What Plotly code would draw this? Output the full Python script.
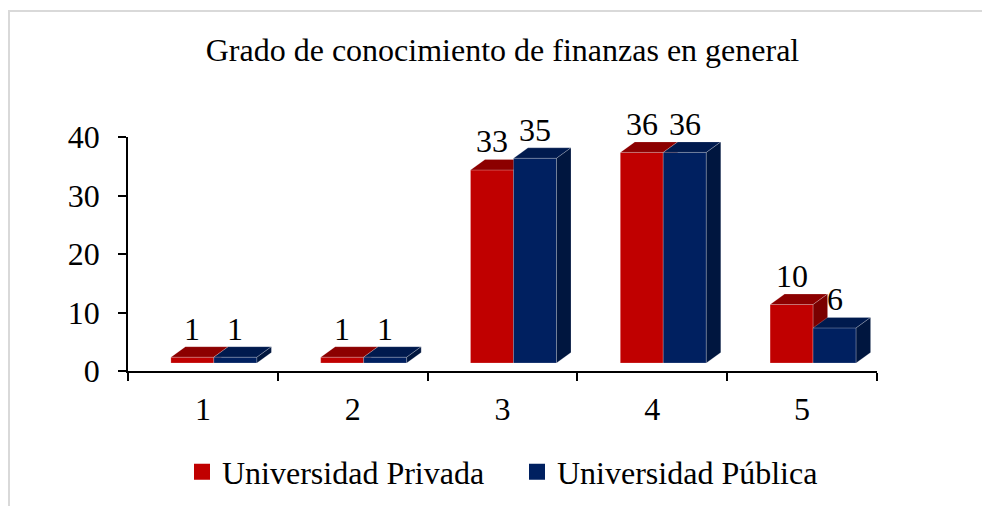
import plotly.graph_objects as go

# ---------------- data ----------------
categories = [1, 2, 3, 4, 5]
cat_labels = ["1", "2", "3", "4", "5"]
privada = [1, 1, 33, 36, 10]
publica = [1, 1, 35, 36, 6]
y_ticks = [0, 10, 20, 30, 40]
series_names = ["Universidad Privada", "Universidad Pública"]
title_text = "Grado de conocimiento de finanzas en general"

# ---------------- style ----------------
FONT = "Liberation Serif, Times New Roman, serif"
FS = 32
W, H = 982, 506
L, R, T, B = 128, 105, 137, 135
PLOT_W = W - L - R
PLOT_H = H - T - B
X_RANGE = [0.5, 5.5]
Y_RANGE = [0, 40]
PX_X = PLOT_W / (X_RANGE[1] - X_RANGE[0])
PX_Y = PLOT_H / (Y_RANGE[1] - Y_RANGE[0])

# pseudo-3D projection (pixel offsets converted to axis units)
FDX, FDY = 11 / PX_X, 8 / PX_Y          # axis plane -> bar front plane
DDX, DDY = 14.5 / PX_X, 10.5 / PX_Y     # bar depth
BW = 43 / PX_X                          # bar width
LABEL_UP = 28.5                         # px above front top edge

colors = {
    "Universidad Privada": dict(front="#C00000", top="#8C0000", side="#7A0000"),
    "Universidad Pública": dict(front="#002060", top="#001A4E", side="#00163F"),
}


def faces(x0, x1, v):
    base = FDY
    top = v + FDY
    front = ([x0, x1, x1, x0, x0], [base, base, top, top, base])
    topf = ([x0, x1, x1 + DDX, x0 + DDX, x0], [top, top, top + DDY, top + DDY, top])
    side = ([x1, x1 + DDX, x1 + DDX, x1, x1], [base, base + DDY, top + DDY, top, base])
    return front, topf, side


fig = go.Figure()
annotations = []

for s_idx, (name, vals) in enumerate(zip(series_names, [privada, publica])):
    col = colors[name]
    fx, fy, tx, ty, sx, sy = [], [], [], [], [], []
    for c, v in zip(categories, vals):
        x0 = c + FDX - BW + s_idx * BW
        x1 = x0 + BW
        (a, b), (cc, d), (e, f) = faces(x0, x1, v)
        fx += a + [None]; fy += b + [None]
        tx += cc + [None]; ty += d + [None]
        sx += e + [None]; sy += f + [None]
        annotations.append(dict(
            x=(x0 + x1) / 2, y=v + FDY, xref="x", yref="y",
            text=str(v), showarrow=False, xanchor="center", yanchor="middle",
            yshift=LABEL_UP, font=dict(family=FONT, size=FS, color="#000000")))
    for xs, ys, clr in [(fx, fy, col["front"]), (tx, ty, col["top"]), (sx, sy, col["side"])]:
        fig.add_trace(go.Scatter(
            x=xs, y=ys, mode="lines", fill="toself", fillcolor=clr,
            line=dict(width=0.6, color="rgba(255,255,255,0.35)"),
            showlegend=False, hoverinfo="skip"))

# legend entries
for name in series_names:
    fig.add_trace(go.Scatter(
        x=[None], y=[None], mode="markers", name=name,
        marker=dict(symbol="square", size=16, color=colors[name]["front"], line=dict(width=0))))

fig.update_layout(
    width=W, height=H,
    margin=dict(l=L, r=R, t=T, b=B, autoexpand=False),
    paper_bgcolor="white", plot_bgcolor="white",
    font=dict(family=FONT, size=FS, color="#000000"),
    title=dict(text=title_text, x=0.5, xref="paper", xanchor="center",
               y=1 - 50 / H, yref="container", yanchor="middle",
               font=dict(family=FONT, size=FS, color="#000000")),
    showlegend=True,
    legend=dict(orientation="h", x=(182 - L) / PLOT_W, xref="paper", xanchor="left",
                y=-(472 - (H - B)) / PLOT_H, yanchor="middle",
                entrywidth=290, entrywidthmode="pixels",
                font=dict(family=FONT, size=FS, color="#000000"),
                itemsizing="trace", bgcolor="rgba(0,0,0,0)"),
    annotations=annotations,
    xaxis=dict(range=X_RANGE, tickvals=categories, ticktext=cat_labels,
               ticks="", showline=True, linecolor="#000000", linewidth=1.5,
               showgrid=False, zeroline=False, ticklabelstandoff=9,
               automargin=False,
               minor=dict(tick0=0.5, dtick=1, ticks="outside", ticklen=8,
                          tickwidth=1.5, tickcolor="#000000", showgrid=False),
               tickfont=dict(family=FONT, size=FS, color="#000000"),
               fixedrange=True),
    yaxis=dict(range=Y_RANGE, tickvals=y_ticks, ticks="outside", ticklen=8,
               tickwidth=1.5, tickcolor="#000000", ticklabelstandoff=12,
               showline=True, linecolor="#000000", linewidth=1.5,
               showgrid=False, zeroline=False, automargin=False,
               tickfont=dict(family=FONT, size=FS, color="#000000"),
               fixedrange=True),
    shapes=[dict(type="rect", xref="paper", yref="paper",
                 x0=(9 - L) / PLOT_W, x1=(W + 20 - L) / PLOT_W,
                 y0=-(H + 20 - (H - B)) / PLOT_H, y1=((H - B) - 11) / PLOT_H,
                 line=dict(color="#D9D9D9", width=2), fillcolor="rgba(0,0,0,0)",
                 layer="below")],
)

fig.write_html("out.html", config={"displayModeBar": False},
               post_script="document.body.style.margin='0';")
